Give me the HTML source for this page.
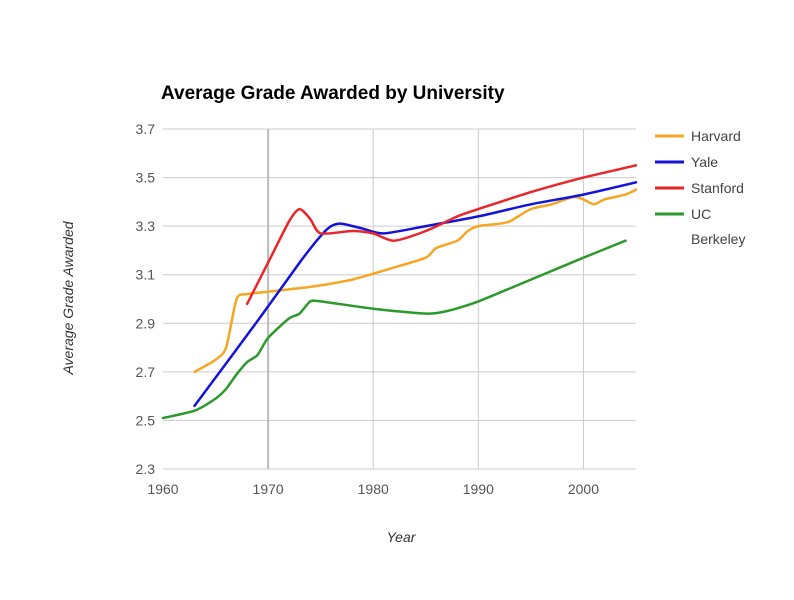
<!DOCTYPE html>
<html><head><meta charset="utf-8"><style>
body{margin:0;background:#fff;}
svg{font-family:"Liberation Sans",Arial,sans-serif;}
</style></head><body>
<svg width="794" height="595">
<text x="161" y="99" font-size="19" font-weight="bold" fill="#000">Average Grade Awarded by University</text>
<g id="grid"></g><g id="axes"></g><g id="series"></g><g id="legend"></g>
<text x="401" y="542" font-size="14" font-style="italic" fill="#333" text-anchor="middle">Year</text>
<text transform="translate(73,298) rotate(-90)" font-size="14" font-style="italic" fill="#333" text-anchor="middle">Average Grade Awarded</text>
</svg>
<script>
const xTicks=[1960,1970,1980,1990,2000];
const yTicks=[2.3,2.5,2.7,2.9,3.1,3.3,3.5,3.7];
const seriesNames=["Harvard","Yale","Stanford","UC Berkeley"];
const seriesColors=["#f5a623","#1414d9","#e8272a","#2a9a2a"];
const harvardYears=[1963,1965,1966,1967,1968,1970,1974,1978,1982,1985,1986,1988,1989,1990,1992,1993,1995,1997,1999,2000,2001,2002,2004,2005];
const harvardValues=[2.70,2.75,2.80,3.00,3.02,3.03,3.05,3.08,3.13,3.17,3.21,3.24,3.28,3.30,3.31,3.32,3.37,3.39,3.42,3.41,3.39,3.41,3.43,3.45];
const yaleYears=[1963,1969,1973,1975,1976,1977,1979,1981,1985,1990,1995,2000,2005];
const yaleValues=[2.56,2.91,3.15,3.26,3.30,3.31,3.29,3.27,3.30,3.34,3.39,3.43,3.48];
const stanfordYears=[1968,1970,1972,1973,1974,1975,1978,1980,1982,1985,1988,1990,1995,2000,2005];
const stanfordValues=[2.98,3.15,3.32,3.37,3.33,3.27,3.28,3.27,3.24,3.28,3.34,3.37,3.44,3.50,3.55];
const berkeleyYears=[1960,1963,1965,1966,1967,1968,1969,1970,1972,1973,1974,1975,1980,1985,1987,1990,1995,2000,2004];
const berkeleyValues=[2.51,2.54,2.59,2.63,2.69,2.74,2.77,2.84,2.92,2.94,2.99,2.99,2.96,2.94,2.95,2.99,3.08,3.17,3.24];
const NS="http://www.w3.org/2000/svg";
const X0=163,X1=636,Y0=469,Y1=129;
const xs=y=>X0+(y-1960)/(2005-1960)*(X1-X0);
const ys=v=>Y0-(v-2.3)/(3.7-2.3)*(Y0-Y1);
function mk(t,a,p){const e=document.createElementNS(NS,t);for(const k in a)e.setAttribute(k,a[k]);p.appendChild(e);return e;}
function smooth(P){let d='M'+P[0][0].toFixed(1)+','+P[0][1].toFixed(1);const t=0.12;
 for(let i=0;i<P.length-1;i++){const p0=P[i-1]||P[i],p1=P[i],p2=P[i+1],p3=P[i+2]||p2;
 const c1=[p1[0]+(p2[0]-p0[0])*t,p1[1]+(p2[1]-p0[1])*t],c2=[p2[0]-(p3[0]-p1[0])*t,p2[1]-(p3[1]-p1[1])*t];
 d+=' C'+c1.map(v=>v.toFixed(1))+' '+c2.map(v=>v.toFixed(1))+' '+p2.map(v=>v.toFixed(1));}return d;}
const grid=document.getElementById('grid'),axes=document.getElementById('axes'),ser=document.getElementById('series'),leg=document.getElementById('legend');
yTicks.forEach(v=>{
 const l=mk('line',{x1:X0,x2:X1,y1:ys(v),y2:ys(v),stroke:'#ccc','stroke-width':1},grid);
 
 
 const t=mk('text',{x:X0-8,y:ys(v)+5,'font-size':14,fill:'#555','text-anchor':'end'},axes);
 t.textContent=v.toFixed(1);
 
 
});
xTicks.forEach(y=>{
 if(y>1960){const l=mk('line',{x1:xs(y),x2:xs(y),y1:Y1,y2:Y0,stroke:y===1970?'#bbb':'#ccc','stroke-width':y===1970?2:1},grid);
 
 }
 const t=mk('text',{x:xs(y),y:Y0+25,'font-size':14,fill:'#555','text-anchor':'middle'},axes);
 t.textContent=y;
 
 
});
const data=[[harvardYears,harvardValues],[yaleYears,yaleValues],[stanfordYears,stanfordValues],[berkeleyYears,berkeleyValues]];
data.forEach((d,i)=>{
 const P=d[0].map((y,j)=>[xs(y),ys(d[1][j])]);
 const p=mk('path',{d:smooth(P),fill:'none',stroke:seriesColors[i],'stroke-width':2.5,'stroke-linejoin':'round','stroke-linecap':'round'},ser);
 
 
});
const legY=[136,162,188,214];
seriesNames.forEach((n,i)=>{
 const g=mk('g',{},leg);
 
 
 mk('line',{x1:655,x2:684,y1:legY[i],y2:legY[i],stroke:seriesColors[i],'stroke-width':3},g);
 const words=n==="UC Berkeley"?["UC","Berkeley"]:[n];
 words.forEach((w,k)=>{const t=mk('text',{x:691,y:legY[i]+5+k*25,'font-size':14,fill:'#444'},g);t.textContent=w;});
});
</script>
</body></html>
